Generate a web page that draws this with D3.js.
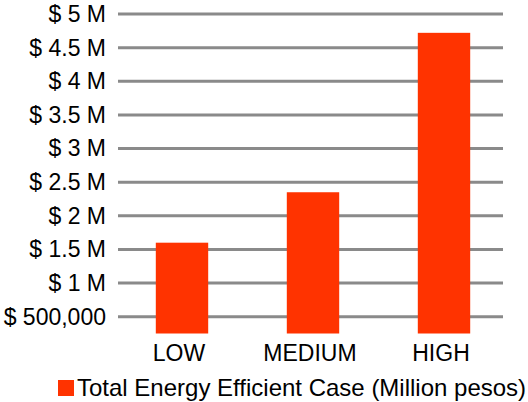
<!DOCTYPE html>
<html>
<head>
<meta charset="utf-8">
<script src="https://cdn.jsdelivr.net/npm/d3@7"></script>
<style>
  html, body { margin: 0; padding: 0; background: #fff; }
  svg { display: block; font-family: "Liberation Sans", Arial, sans-serif; }
</style>
</head>
<body>
<svg id="chart" width="528" height="402"></svg>
<script>
// Cost by efficiency scenario
const categories = ["LOW", "MEDIUM", "HIGH"];
const values = [1600000, 2350000, 4720000];
const tickValues = [500000, 1000000, 1500000, 2000000, 2500000, 3000000, 3500000, 4000000, 4500000, 5000000];
const tickLabels = ["$ 500,000", "$ 1 M", "$ 1.5 M", "$ 2 M", "$ 2.5 M", "$ 3 M", "$ 3.5 M", "$ 4 M", "$ 4.5 M", "$ 5 M"];
const seriesName = "Total Energy Efficient Case (Million pesos)";

const barColor = "#ff3300";
const gridColor = "#8a8a8a";
const fontSize = 23;

const svg = d3.select("#chart");

const y = d3.scaleLinear().domain([250000, 5000000]).range([333.5, 14]);
const x = d3.scaleBand().domain(categories).range([116.5, 509.5]).paddingInner(0.6).paddingOuter(0.3);

// horizontal gridlines
svg.append("g")
  .selectAll("line")
  .data(tickValues)
  .join("line")
  .attr("x1", 118).attr("x2", 503)
  .attr("y1", d => y(d)).attr("y2", d => y(d))
  .attr("stroke", gridColor)
  .attr("stroke-width", 3);

// y-axis labels
const yAxis = d3.axisLeft(y)
  .tickValues(tickValues)
  .tickFormat((d, i) => tickLabels[i])
  .tickSize(0)
  .tickPadding(0);
const yg = svg.append("g").attr("transform", "translate(106,0)").call(yAxis);
yg.select(".domain").remove();
yg.selectAll("text")
  .attr("font-size", fontSize)
  .attr("font-family", "Liberation Sans, Arial, sans-serif")
  .attr("fill", "#000");

// bars
svg.append("g")
  .selectAll("rect")
  .data(values)
  .join("rect")
  .attr("x", (d, i) => x(categories[i]))
  .attr("width", x.bandwidth())
  .attr("y", d => y(d))
  .attr("height", d => y(250000) - y(d))
  .attr("fill", barColor);

// x-axis labels
const xAxis = d3.axisBottom(x).tickSize(0).tickPadding(0);
const xg = svg.append("g").attr("transform", "translate(-3,345)").call(xAxis);
xg.select(".domain").remove();
xg.selectAll("text")
  .attr("font-size", fontSize)
  .attr("font-family", "Liberation Sans, Arial, sans-serif")
  .attr("fill", "#000");

// legend
const legend = svg.append("g").attr("transform", "translate(58,380)");
legend.append("rect").attr("width", 16).attr("height", 16).attr("fill", barColor);
legend.append("text")
  .attr("x", 19).attr("y", 15.5)
  .attr("font-size", 24)
  .attr("fill", "#000")
  .text(seriesName);
</script>
</body>
</html>
